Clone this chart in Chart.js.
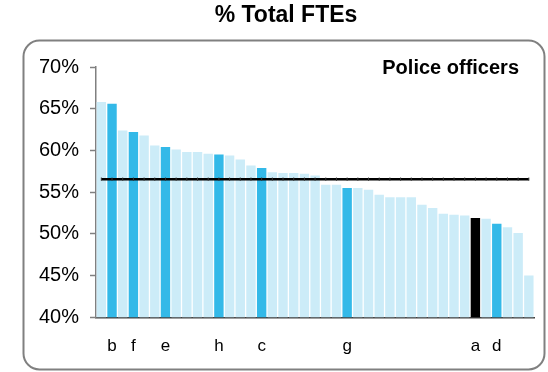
<!DOCTYPE html>
<html>
<head>
<meta charset="utf-8">
<script src="https://cdn.jsdelivr.net/npm/chart.js@4"></script>
<style>
  html, body { margin: 0; padding: 0; background: #fff; }
  #wrap { width: 548px; height: 372px; }
</style>
</head>
<body>
<div id="wrap"><canvas id="fteChart" width="548" height="372"></canvas></div>
<script>
// Dados do gráfico
const forceCodes = ["", "b", "", "f", "", "", "e", "", "", "", "", "h", "", "", "", "c", "", "", "", "",
                    "", "", "", "g", "", "", "", "", "", "", "", "", "", "", "", "a", "", "d", "", "", ""];
const officerShare = [65.8, 65.6, 62.4, 62.2, 61.8, 60.6, 60.4, 60.1, 59.8, 59.8, 59.6, 59.5, 59.4, 58.9, 58.2, 57.9, 57.4, 57.3, 57.3, 57.2,
                      57.0, 55.9, 55.9, 55.5, 55.5, 55.3, 54.7, 54.4, 54.4, 54.4, 53.5, 53.1, 52.4, 52.3, 52.2, 51.9, 51.8, 51.2, 50.8, 50.1, 45.0];
const averageShare = 56.56;
const yTicks = [40, 45, 50, 55, 60, 65, 70];

const titleText = "% Total FTEs";
const panelText = "Police officers";

// Cores das barras
const barColors = forceCodes.map(code => {
    if (code === "a") return "#000000";
    if (code !== "") return "#33b9e8";
    return "#ccecf8";
});

// Moldura, título e rótulo do painel
const framePlugin = {
    id: "frame",
    beforeDraw(chart) {
        const ctx = chart.ctx;
        ctx.save();
        ctx.strokeStyle = "#808080";
        ctx.lineWidth = 2;
        ctx.beginPath();
        ctx.roundRect(23.5, 40.5, 521, 329, 16);
        ctx.stroke();

        ctx.fillStyle = "#000";
        ctx.textBaseline = "middle";
        ctx.textAlign = "center";
        ctx.font = "bold 23px 'Liberation Sans', Arial, sans-serif";
        ctx.fillText(titleText, 286, 16);

        ctx.textAlign = "right";
        ctx.font = "bold 20px 'Liberation Sans', Arial, sans-serif";
        ctx.fillText(panelText, 519, 68);
        ctx.restore();
    }
};

const ctx = document.getElementById("fteChart").getContext("2d");
const fteChart = new Chart(ctx, {
    type: "bar",
    data: {
        labels: forceCodes,
        datasets: [{
            type: "line",
            data: forceCodes.map(() => averageShare),
            borderColor: "#000",
            borderWidth: 2.5,
            pointStyle: "line",
            rotation: 90,
            pointRadius: 1.6,
            pointBorderWidth: 1,
            pointBorderColor: "#333",
            order: 0
        }, {
            data: officerShare,
            backgroundColor: barColors,
            barPercentage: 0.88,
            categoryPercentage: 1.0,
            order: 1
        }]
    },
    options: {
        responsive: false,
        animation: false,
        layout: { padding: { left: 0, right: 13, top: 67, bottom: 0 } },
        plugins: {
            legend: { display: false },
            tooltip: { enabled: false }
        },
        scales: {
            x: {
                grid: { display: false, drawTicks: false },
                border: { display: true, color: "#404040", width: 1.5 },
                ticks: {
                    autoSkip: false,
                    maxRotation: 0,
                    padding: 19,
                    color: "#000",
                    font: { family: "'Liberation Sans', Arial, sans-serif", size: 17 }
                },
                afterFit(scale) { scale.height = 54.7; }
            },
            y: {
                min: 40,
                max: 70,
                afterBuildTicks(scale) { scale.ticks = yTicks.map(v => ({ value: v })); },
                grid: { drawOnChartArea: false, tickLength: 6, color: "#808080", tickWidth: 1.5 },
                border: { display: true, color: "#808080", width: 1.5 },
                ticks: {
                    padding: 11,
                    color: "#000",
                    font: { family: "'Liberation Sans', Arial, sans-serif", size: 20 },
                    callback: v => v + "%"
                },
                afterFit(scale) { scale.width = 96; }
            }
        }
    },
    plugins: [framePlugin]
});
</script>
</body>
</html>
